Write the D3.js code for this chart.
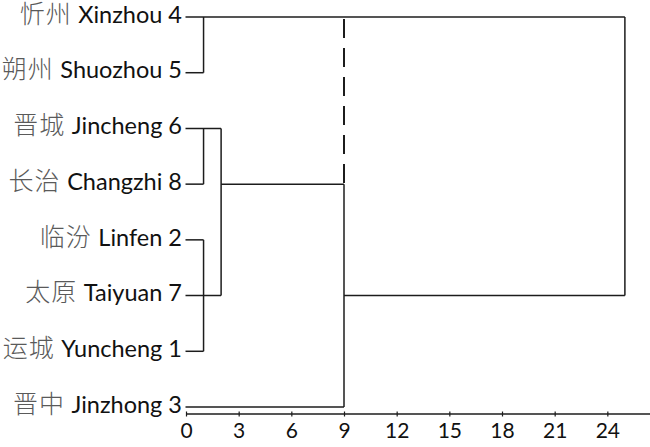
<!DOCTYPE html>
<html>
<head>
<meta charset="utf-8">
<script src="https://cdn.jsdelivr.net/npm/d3@7"></script>
<style>
  html, body { margin: 0; padding: 0; background: #fff; }
  svg { display: block; }
</style>
</head>
<body>
<svg id="chart" width="650" height="447"></svg>
<script>
// ---- data ----
const leafZh = ["忻州", "朔州", "晋城", "长治", "临汾", "太原", "运城", "晋中"];
const leafEn = ["Xinzhou 4", "Shuozhou 5", "Jincheng 6", "Changzhi 8", "Linfen 2", "Taiyuan 7", "Yuncheng 1", "Jinzhong 3"];
const tickValues = [0, 3, 6, 9, 12, 15, 18, 21, 24];
// dendrogram segments in data units: [distance1, row1, distance2, row2]
const hSegments = [
  [0, 0, 25, 0],
  [0, 1, 1, 1],
  [0, 2, 2, 2],
  [0, 3, 1, 3],
  [0, 4, 1, 4],
  [0, 5, 2, 5],
  [0, 6, 1, 6],
  [0, 7, 9, 7],
  [2, 3, 9, 3],
  [9, 5, 25, 5]
];
const vSegments = [
  [1, 0, 1, 1],
  [1, 2, 1, 3],
  [1, 4, 1, 6],
  [2, 2, 2, 5],
  [9, 3, 9, 7],
  [25, 0, 25, 5]
];
const dashedSegments = [
  [9, 0.02, 9, 3]
];

// ---- scales ----
const svg = d3.select("#chart");
const x = d3.scaleLinear().domain([0, 26.43]).range([186, 650]);
const y = d3.scaleLinear().domain([0, 7]).range([17, 407]);

const lineColor = "#1c1c1c";

// axis
const axisY = 414;
const axis = d3.axisBottom(x).tickValues(tickValues).tickSize(2.5).tickPadding(0).tickFormat(d3.format("d"));
const gAxis = svg.append("g").attr("transform", `translate(0,${axisY})`).call(axis);
gAxis.select(".domain").attr("d", `M${x(0)},0H650`).attr("stroke", lineColor).attr("stroke-width", 1.4);
gAxis.selectAll(".tick line").attr("y1", -2.5).attr("y2", 2.5).attr("stroke", lineColor).attr("stroke-width", 1.2);
gAxis.selectAll(".tick text")
  .attr("y", 24).attr("dy", null)
  .attr("fill", "#111")
  .style("font-family", "Lato, 'Open Sans', sans-serif")
  .style("font-size", "21px");

// segments
const g = svg.append("g").attr("fill", "none").attr("stroke", lineColor).attr("stroke-width", 1.5);
g.selectAll("line.h").data(hSegments).join("line").attr("class", "h")
  .attr("x1", d => x(d[0]) - (d[0] === 0 ? 0.5 : 0)).attr("y1", d => y(d[1]))
  .attr("x2", d => x(d[2])).attr("y2", d => y(d[3]));
g.selectAll("line.v").data(vSegments).join("line").attr("class", "v")
  .attr("x1", d => x(d[0])).attr("y1", d => y(d[1]))
  .attr("x2", d => x(d[2])).attr("y2", d => y(d[3]));
g.selectAll("line.d").data(dashedSegments).join("line").attr("class", "d")
  .attr("x1", d => x(d[0])).attr("y1", d => y(d[1]) + 1)
  .attr("x2", d => x(d[2])).attr("y2", d => y(d[3]))
  .attr("stroke-width", 2)
  .attr("stroke-dasharray", "19,10");

// labels
const labels = svg.append("g");
leafEn.forEach((en, i) => {
  const t = labels.append("text")
    .attr("x", 182).attr("y", y(i)).attr("dy", "0.36em")
    .attr("text-anchor", "end");
  t.append("tspan").text(leafZh[i] + " ")
    .attr("fill", "#5a5a5a")
    .style("font-family", "'Noto Sans CJK SC', sans-serif")
    .style("font-weight", 300)
    .style("font-size", "25px")
    .style("letter-spacing", "1px");
  t.append("tspan").text(en)
    .attr("fill", "#111")
    .style("font-family", "Lato, 'Open Sans', sans-serif")
    .style("font-size", "23.5px");
});
</script>
</body>
</html>
